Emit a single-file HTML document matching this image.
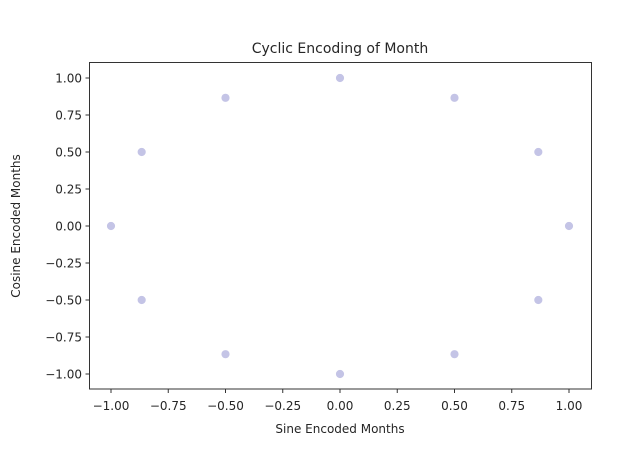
<!DOCTYPE html>
<html><head><style>body{margin:0;background:#fff}svg{display:block}text{font-family:"DejaVu Sans","Liberation Sans",sans-serif;fill:#262626}</style></head>
<body>
<svg width="633" height="466" xmlns="http://www.w3.org/2000/svg">
<rect x="89.5" y="62.5" width="502" height="326.5" fill="none" stroke="#333" stroke-width="1"/>
<text x="340" y="53" font-size="14" text-anchor="middle" fill="#000">Cyclic Encoding of Month</text>
<g font-size="12" text-anchor="end" id="yt"></g>
<g font-size="12" text-anchor="middle" id="xt"></g>
<text x="340" y="433" font-size="12" text-anchor="middle">Sine Encoded Months</text>
<text transform="translate(20,226) rotate(-90)" font-size="12" text-anchor="middle">Cosine Encoded Months</text>
<g id="pts"></g>
<script>
var ns="http://www.w3.org/2000/svg",X=v=>340+229*v,Y=v=>226-148*v;
var yt=document.getElementById('yt'),xt=document.getElementById('xt'),pts=document.getElementById('pts'),svg=document.querySelector('svg');
function el(t,a,p){var e=document.createElementNS(ns,t);for(var k in a)e.setAttribute(k,a[k]);p.appendChild(e);return e;}
for(var i=-4;i<=4;i++){var v=i/4,s=(v<0?'\u2212':'')+Math.abs(v).toFixed(2);
el('line',{x1:85.5,x2:89.5,y1:Y(v),y2:Y(v),stroke:'#333'},svg);el('text',{x:82,y:Y(v)+4.5},yt).textContent=s;
el('line',{x1:X(v),x2:X(v),y1:389,y2:393,stroke:'#333'},svg);el('text',{x:X(v),y:410},xt).textContent=s;}
for(var k=0;k<12;k++){var a=2*Math.PI*k/12;el('circle',{cx:X(Math.sin(a)),cy:Y(Math.cos(a)),r:4.5,fill:'#c4c4e6',stroke:'#fff','stroke-width':0.8},pts);}
</script>
</svg>
</body></html>
